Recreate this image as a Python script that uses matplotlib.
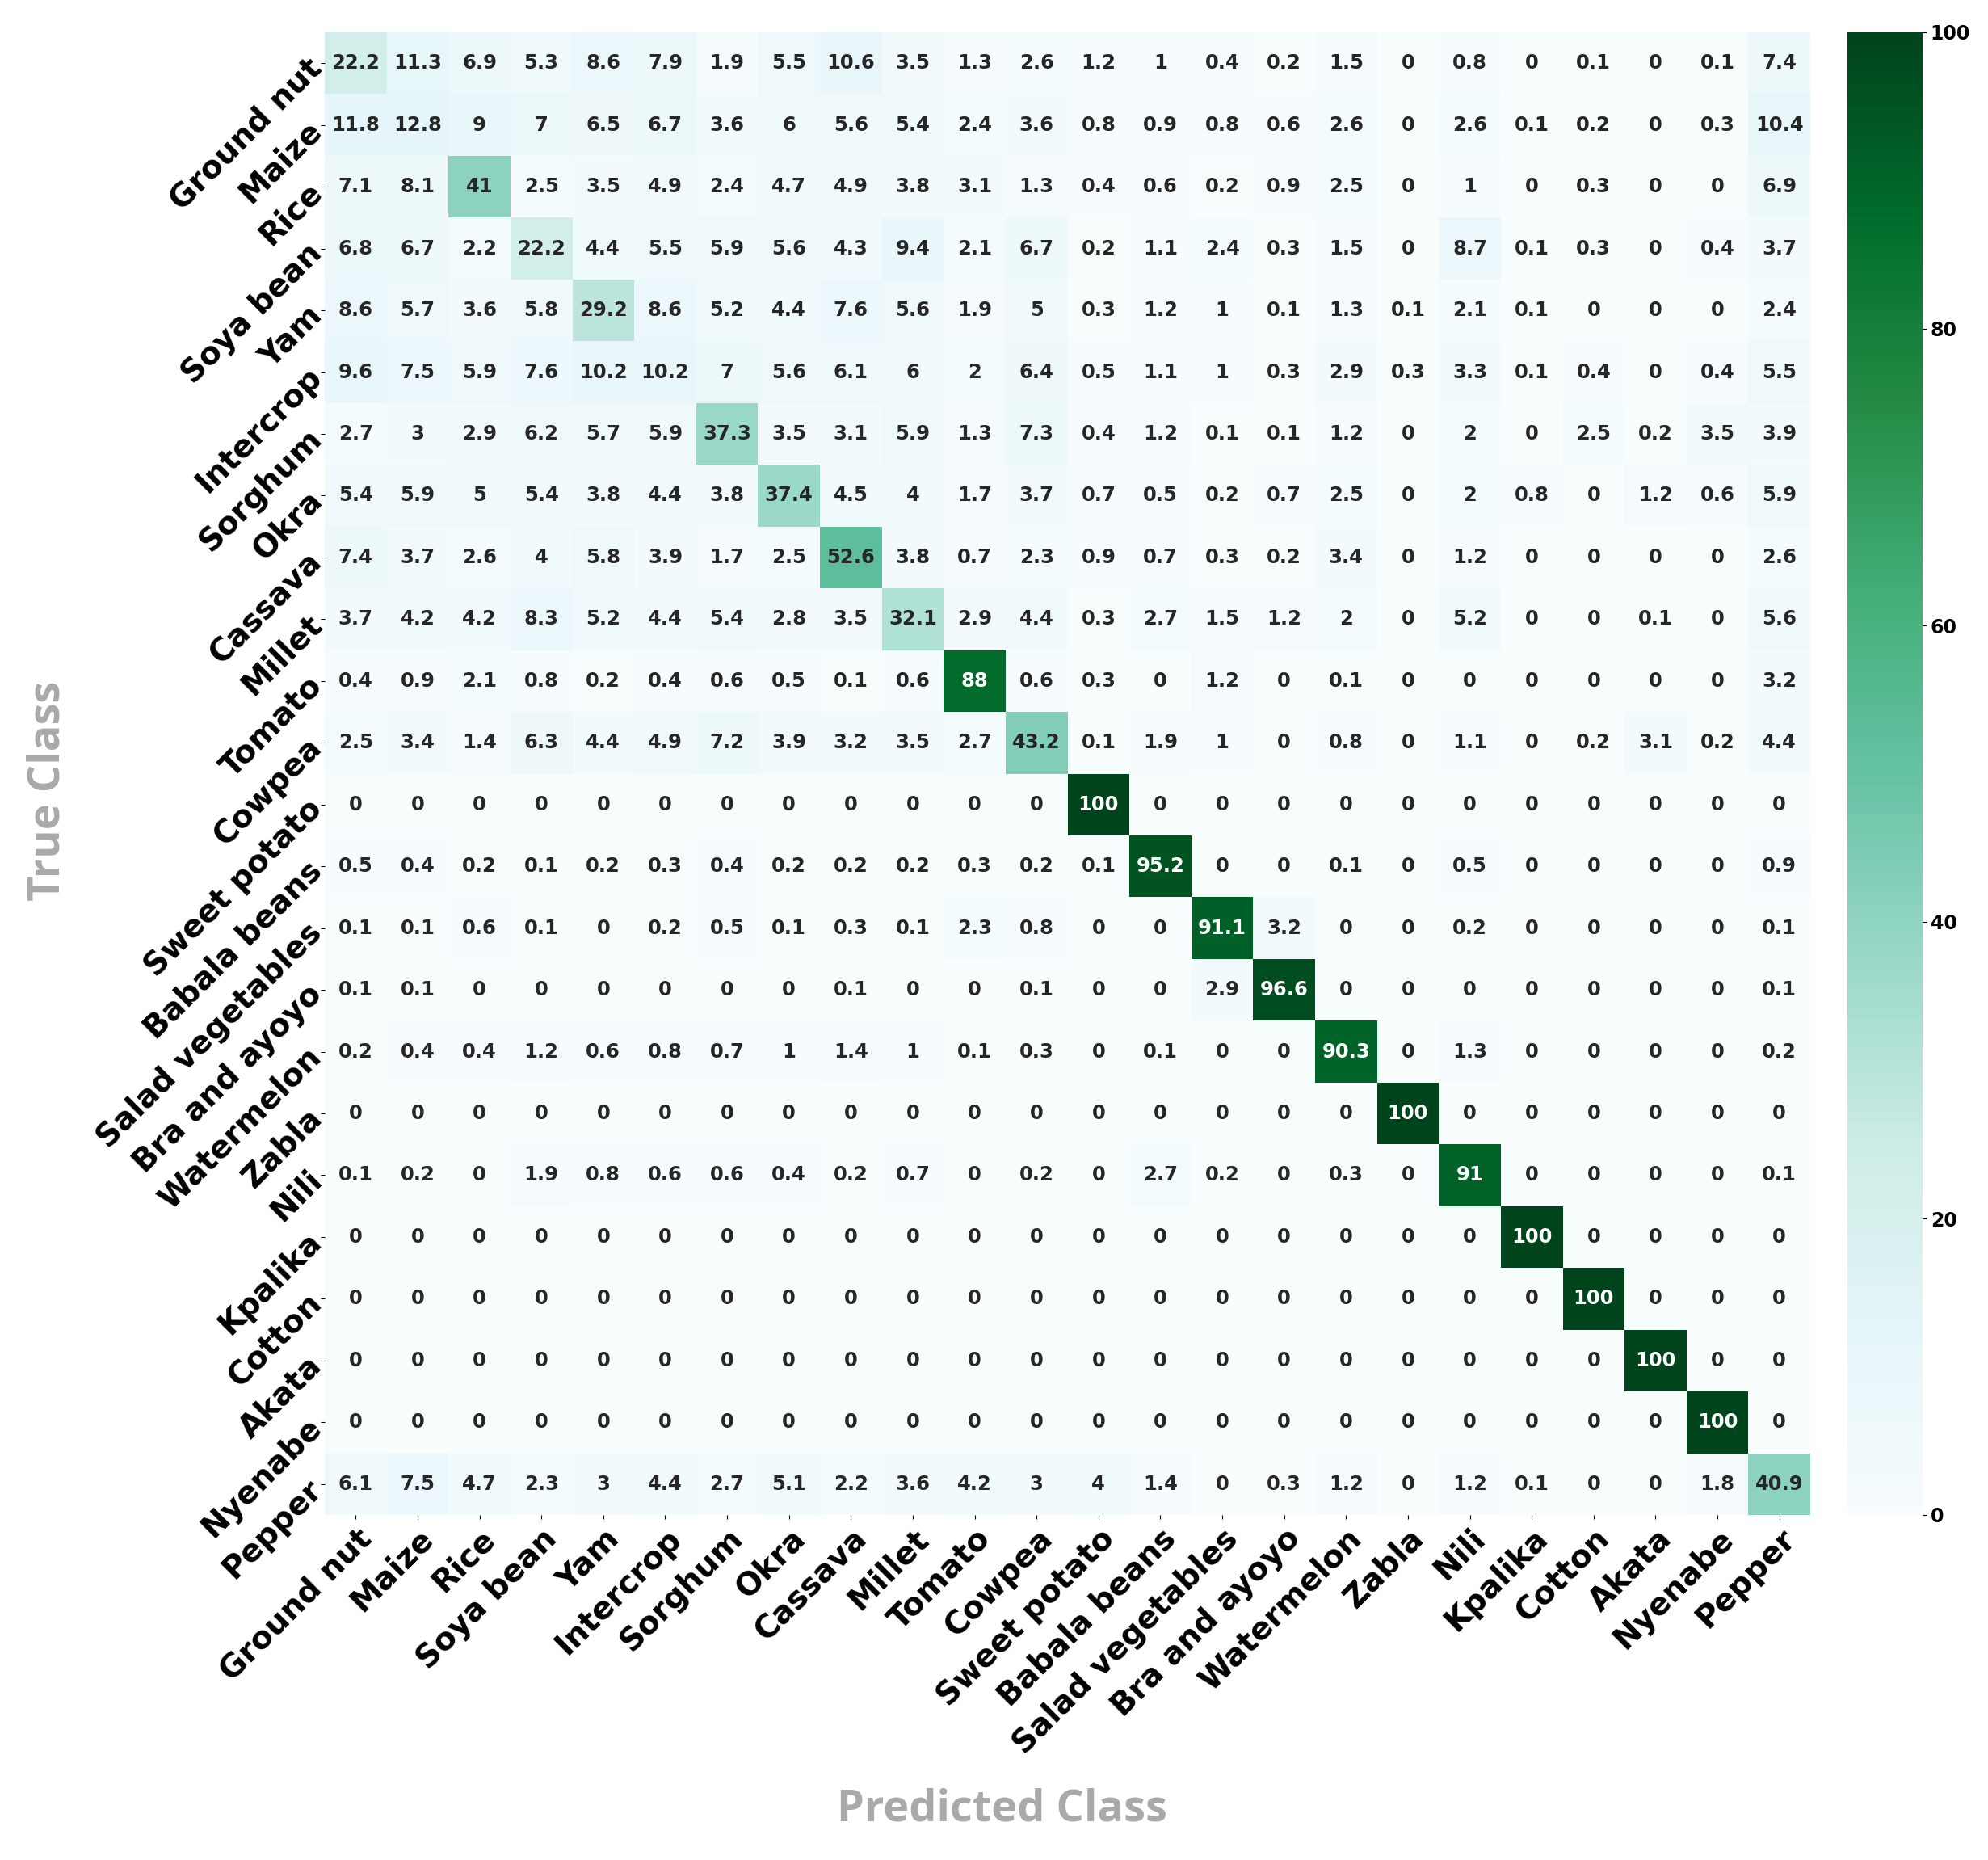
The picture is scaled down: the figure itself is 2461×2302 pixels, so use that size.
"""Confusion matrix of crop classes (percent of true class), BuGn heatmap."""

import matplotlib

matplotlib.use("Agg")
import matplotlib.pyplot as plt
import numpy as np
import seaborn as sns

classes = [
    "Ground nut", "Maize", "Rice", "Soya bean", "Yam", "Intercrop", "Sorghum",
    "Okra", "Cassava", "Millet", "Tomato", "Cowpea", "Sweet potato",
    "Babala beans", "Salad vegetables", "Bra and ayoyo", "Watermelon",
    "Zabla", "Nili", "Kpalika", "Cotton", "Akata", "Nyenabe", "Pepper",
]

# rows = true class, columns = predicted class (%)
conf_pct = [
    [22.2, 11.3, 6.9, 5.3, 8.6, 7.9, 1.9, 5.5, 10.6, 3.5, 1.3, 2.6, 1.2, 1, 0.4, 0.2, 1.5, 0, 0.8, 0, 0.1, 0, 0.1, 7.4],
    [11.8, 12.8, 9, 7, 6.5, 6.7, 3.6, 6, 5.6, 5.4, 2.4, 3.6, 0.8, 0.9, 0.8, 0.6, 2.6, 0, 2.6, 0.1, 0.2, 0, 0.3, 10.4],
    [7.1, 8.1, 41, 2.5, 3.5, 4.9, 2.4, 4.7, 4.9, 3.8, 3.1, 1.3, 0.4, 0.6, 0.2, 0.9, 2.5, 0, 1, 0, 0.3, 0, 0, 6.9],
    [6.8, 6.7, 2.2, 22.2, 4.4, 5.5, 5.9, 5.6, 4.3, 9.4, 2.1, 6.7, 0.2, 1.1, 2.4, 0.3, 1.5, 0, 8.7, 0.1, 0.3, 0, 0.4, 3.7],
    [8.6, 5.7, 3.6, 5.8, 29.2, 8.6, 5.2, 4.4, 7.6, 5.6, 1.9, 5, 0.3, 1.2, 1, 0.1, 1.3, 0.1, 2.1, 0.1, 0, 0, 0, 2.4],
    [9.6, 7.5, 5.9, 7.6, 10.2, 10.2, 7, 5.6, 6.1, 6, 2, 6.4, 0.5, 1.1, 1, 0.3, 2.9, 0.3, 3.3, 0.1, 0.4, 0, 0.4, 5.5],
    [2.7, 3, 2.9, 6.2, 5.7, 5.9, 37.3, 3.5, 3.1, 5.9, 1.3, 7.3, 0.4, 1.2, 0.1, 0.1, 1.2, 0, 2, 0, 2.5, 0.2, 3.5, 3.9],
    [5.4, 5.9, 5, 5.4, 3.8, 4.4, 3.8, 37.4, 4.5, 4, 1.7, 3.7, 0.7, 0.5, 0.2, 0.7, 2.5, 0, 2, 0.8, 0, 1.2, 0.6, 5.9],
    [7.4, 3.7, 2.6, 4, 5.8, 3.9, 1.7, 2.5, 52.6, 3.8, 0.7, 2.3, 0.9, 0.7, 0.3, 0.2, 3.4, 0, 1.2, 0, 0, 0, 0, 2.6],
    [3.7, 4.2, 4.2, 8.3, 5.2, 4.4, 5.4, 2.8, 3.5, 32.1, 2.9, 4.4, 0.3, 2.7, 1.5, 1.2, 2, 0, 5.2, 0, 0, 0.1, 0, 5.6],
    [0.4, 0.9, 2.1, 0.8, 0.2, 0.4, 0.6, 0.5, 0.1, 0.6, 88, 0.6, 0.3, 0, 1.2, 0, 0.1, 0, 0, 0, 0, 0, 0, 3.2],
    [2.5, 3.4, 1.4, 6.3, 4.4, 4.9, 7.2, 3.9, 3.2, 3.5, 2.7, 43.2, 0.1, 1.9, 1, 0, 0.8, 0, 1.1, 0, 0.2, 3.1, 0.2, 4.4],
    [0, 0, 0, 0, 0, 0, 0, 0, 0, 0, 0, 0, 100, 0, 0, 0, 0, 0, 0, 0, 0, 0, 0, 0],
    [0.5, 0.4, 0.2, 0.1, 0.2, 0.3, 0.4, 0.2, 0.2, 0.2, 0.3, 0.2, 0.1, 95.2, 0, 0, 0.1, 0, 0.5, 0, 0, 0, 0, 0.9],
    [0.1, 0.1, 0.6, 0.1, 0, 0.2, 0.5, 0.1, 0.3, 0.1, 2.3, 0.8, 0, 0, 91.1, 3.2, 0, 0, 0.2, 0, 0, 0, 0, 0.1],
    [0.1, 0.1, 0, 0, 0, 0, 0, 0, 0.1, 0, 0, 0.1, 0, 0, 2.9, 96.6, 0, 0, 0, 0, 0, 0, 0, 0.1],
    [0.2, 0.4, 0.4, 1.2, 0.6, 0.8, 0.7, 1, 1.4, 1, 0.1, 0.3, 0, 0.1, 0, 0, 90.3, 0, 1.3, 0, 0, 0, 0, 0.2],
    [0, 0, 0, 0, 0, 0, 0, 0, 0, 0, 0, 0, 0, 0, 0, 0, 0, 100, 0, 0, 0, 0, 0, 0],
    [0.1, 0.2, 0, 1.9, 0.8, 0.6, 0.6, 0.4, 0.2, 0.7, 0, 0.2, 0, 2.7, 0.2, 0, 0.3, 0, 91, 0, 0, 0, 0, 0.1],
    [0, 0, 0, 0, 0, 0, 0, 0, 0, 0, 0, 0, 0, 0, 0, 0, 0, 0, 0, 100, 0, 0, 0, 0],
    [0, 0, 0, 0, 0, 0, 0, 0, 0, 0, 0, 0, 0, 0, 0, 0, 0, 0, 0, 0, 100, 0, 0, 0],
    [0, 0, 0, 0, 0, 0, 0, 0, 0, 0, 0, 0, 0, 0, 0, 0, 0, 0, 0, 0, 0, 100, 0, 0],
    [0, 0, 0, 0, 0, 0, 0, 0, 0, 0, 0, 0, 0, 0, 0, 0, 0, 0, 0, 0, 0, 0, 100, 0],
    [6.1, 7.5, 4.7, 2.3, 3, 4.4, 2.7, 5.1, 2.2, 3.6, 4.2, 3, 4, 1.4, 0, 0.3, 1.2, 0, 1.2, 0.1, 0, 0, 1.8, 40.9],
]

cbar_ticks = [0, 20, 40, 60, 80, 100]

W, H, DPI = 2461, 2302, 100
fig = plt.figure(figsize=(W / DPI, H / DPI), dpi=DPI)
ax = fig.add_axes([402 / W, 1 - 1875 / H, 1839 / W, 1835 / H])
cax = fig.add_axes([2287 / W, 1 - 1875 / H, 93 / W, 1835 / H])

sns.heatmap(np.array(conf_pct), ax=ax, cbar_ax=cax, cmap="BuGn",
            vmin=0, vmax=100, annot=True, fmt="g",
            annot_kws={"size": 17.5, "weight": "bold"},
            xticklabels=classes, yticklabels=classes)

ax.set_xticklabels(classes, rotation=45, ha="right", rotation_mode="anchor",
                   fontsize=28, fontweight="bold")
ax.set_yticklabels(classes, rotation=45, ha="right", rotation_mode="anchor",
                   fontsize=28, fontweight="bold")
ax.set_xlabel("")
ax.set_ylabel("")

cax.set_yticks(cbar_ticks)
cax.set_yticklabels([str(t) for t in cbar_ticks], fontsize=17, fontweight="bold")

# axis titles placed by hand, grey and a bit narrower font
lab = dict(fontsize=39, fontweight="bold", color="darkgray",
           family=["Open Sans", "DejaVu Sans"], ha="center", va="center")
fig.text(1240 / W, 1 - 2240 / H, "Predicted Class", **lab)
fig.text(60 / W, 1 - 979 / H, "True Class", rotation=90, **lab)

fig.savefig("out.png", dpi=DPI)
